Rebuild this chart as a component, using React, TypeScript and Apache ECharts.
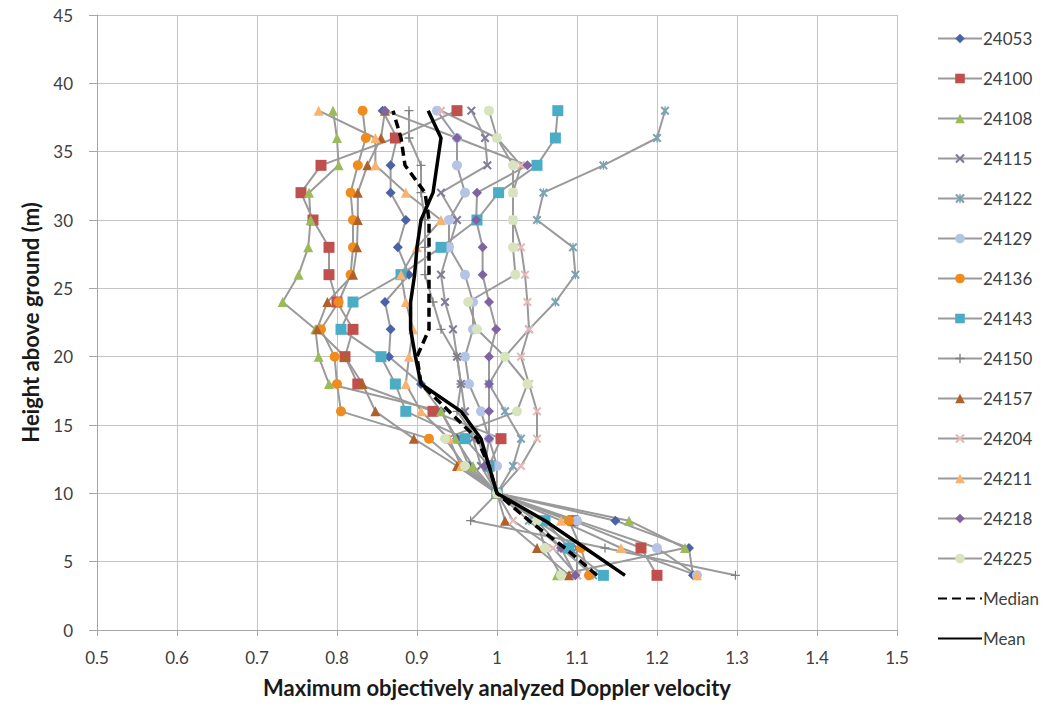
import React, { useEffect, useRef } from "react";
import * as echarts from "echarts";

const heights = [4, 6, 8, 10, 12, 14, 16, 18, 20, 22, 24, 26, 28, 30, 32, 34, 36, 38];

const s24053 = [1.245, 1.24, 1.148, 1.0, 0.965, 0.95, 0.93, 0.905, 0.865, 0.867, 0.86, 0.89, 0.876, 0.886, 0.867, 0.867, 0.875, 0.857];
const s24100 = [1.2, 1.18, 1.095, 1.0, 0.99, 1.005, 0.92, 0.826, 0.81, 0.82, 0.8, 0.79, 0.79, 0.77, 0.755, 0.78, 0.873, 0.95];
const s24108 = [1.075, 1.235, 1.165, 1.0, 0.97, 0.948, 0.93, 0.79, 0.777, 0.773, 0.732, 0.752, 0.764, 0.767, 0.765, 0.802, 0.8, 0.795];
const s24115 = [1.1, 1.1, 1.05, 1.0, 0.98, 0.97, 0.96, 0.955, 0.95, 0.945, 0.935, 0.93, 0.94, 0.95, 0.93, 0.988, 0.985, 0.968];
const s24122 = [1.12, 1.08, 1.04, 1.0, 1.02, 1.03, 1.01, 0.99, 1.01, 1.04, 1.073, 1.098, 1.095, 1.05, 1.058, 1.133, 1.2, 1.21];
const s24129 = [1.25, 1.2, 1.1, 1.0, 1.0, 0.99, 0.98, 0.965, 0.96, 0.97, 0.97, 0.96, 0.94, 0.94, 0.96, 0.95, 0.95, 0.925];
const s24136 = [1.115, 1.105, 1.09, 1.0, 0.955, 0.915, 0.805, 0.8, 0.797, 0.78, 0.802, 0.817, 0.82, 0.82, 0.817, 0.826, 0.836, 0.832];
const s24143 = [1.133, 1.09, 1.06, 1.0, 0.99, 0.96, 0.886, 0.873, 0.855, 0.805, 0.82, 0.88, 0.93, 0.975, 1.002, 1.05, 1.073, 1.076];
const s24150 = [1.298, 1.135, 0.967, 1.0, 0.99, 0.975, 0.95, 0.955, 0.95, 0.93, 0.92, 0.91, 0.91, 0.91, 0.905, 0.905, 0.89, 0.89];
const s24157 = [1.09, 1.05, 1.01, 1.0, 0.95, 0.896, 0.848, 0.832, 0.81, 0.775, 0.788, 0.82, 0.825, 0.826, 0.826, 0.838, 0.855, 0.86];
const s24204 = [1.1, 1.07, 1.02, 1.0, 1.03, 1.05, 1.05, 1.04, 1.03, 1.04, 1.038, 1.035, 1.03, 1.02, 1.02, 1.03, 1.0, 0.93];
const s24211 = [1.25, 1.155, 1.08, 1.0, 0.955, 0.94, 0.905, 0.886, 0.89, 0.895, 0.886, 0.88, 0.9, 0.93, 0.886, 0.848, 0.848, 0.777];
const s24218 = [1.098, 1.08, 1.05, 1.0, 0.985, 0.99, 0.99, 0.99, 0.99, 0.999, 0.99, 0.982, 0.982, 0.974, 0.975, 1.038, 0.95, 0.86];
const s24225 = [1.08, 1.06, 1.05, 1.0, 0.96, 0.935, 1.025, 1.038, 1.01, 0.975, 0.964, 1.023, 1.02, 1.02, 1.02, 1.02, 1.0, 0.99];
const sMedian = [1.125, 1.085, 1.04, 1.0, 0.99, 0.975, 0.94, 0.905, 0.9, 0.915, 0.915, 0.915, 0.915, 0.915, 0.91, 0.885, 0.88, 0.87];
const sMean = [1.16, 1.11, 1.06, 1.0, 0.99, 0.98, 0.955, 0.905, 0.898, 0.892, 0.892, 0.897, 0.9, 0.905, 0.92, 0.925, 0.93, 0.914];

const xTicks = [0.5, 0.6, 0.7, 0.8, 0.9, 1, 1.1, 1.2, 1.3, 1.4, 1.5];

const X_SYM = "path://M0,1.6 L1.6,0 L5,3.4 L8.4,0 L10,1.6 L6.6,5 L10,8.4 L8.4,10 L5,6.6 L1.6,10 L0,8.4 L3.4,5 Z";
const STAR_SYM = "path://M0,1.6 L1.6,0 L5,3.4 L8.4,0 L10,1.6 L6.6,5 L10,8.4 L8.4,10 L5,6.6 L1.6,10 L0,8.4 L3.4,5 Z M4.3,0 L5.7,0 L5.7,10 L4.3,10 Z";
const PLUS_SYM = "path://M4.3,0 L5.7,0 L5.7,4.3 L10,4.3 L10,5.7 L5.7,5.7 L5.7,10 L4.3,10 L4.3,5.7 L0,5.7 L0,4.3 L4.3,4.3 Z";

const stations = [
  { name: "24053", data: s24053, symbol: "diamond", size: 10, color: "#4A62A6" },
  { name: "24100", data: s24100, symbol: "rect", size: 11, color: "#C0504D" },
  { name: "24108", data: s24108, symbol: "triangle", size: 10, color: "#9BBB59" },
  { name: "24115", data: s24115, symbol: X_SYM, size: 9, color: "#7F7B98" },
  { name: "24122", data: s24122, symbol: STAR_SYM, size: 9, color: "#7BA3B4" },
  { name: "24129", data: s24129, symbol: "circle", size: 10, color: "#B4C4E6" },
  { name: "24136", data: s24136, symbol: "circle", size: 10, color: "#F08C1E" },
  { name: "24143", data: s24143, symbol: "rect", size: 11, color: "#4BACC6" },
  { name: "24150", data: s24150, symbol: PLUS_SYM, size: 9, color: "#808080" },
  { name: "24157", data: s24157, symbol: "triangle", size: 10, color: "#B0602A" },
  { name: "24204", data: s24204, symbol: X_SYM, size: 9, color: "#E6B9B8" },
  { name: "24211", data: s24211, symbol: "triangle", size: 10, color: "#F9B36E" },
  { name: "24218", data: s24218, symbol: "diamond", size: 10, color: "#8064A2" },
  { name: "24225", data: s24225, symbol: "circle", size: 10, color: "#D7E4BD" },
];

const FONT = "Lato, 'Open Sans', sans-serif";

export default function App() {
  const ref = useRef<HTMLDivElement>(null);

  useEffect(() => {
    document.body.style.margin = "0";
    if (!ref.current) return;
    const chart = echarts.init(ref.current, undefined, { renderer: "svg" });

    const series: any[] = stations.map((s) => ({
      name: s.name,
      type: "line",
      data: s.data.map((v, i) => [v, heights[i]]),
      symbol: s.symbol,
      symbolSize: s.size,
      showSymbol: true,
      lineStyle: { color: "#9A9A9A", width: 2 },
      itemStyle: { color: s.color, borderWidth: 0 },
      z: 2,
    }));
    series.push({
      name: "Median",
      type: "line",
      data: sMedian.map((v, i) => [v, heights[i]]),
      symbol: "none",
      lineStyle: { color: "#000000", width: 3.5, type: [9, 5] },
      itemStyle: { color: "#000000" },
      z: 5,
    });
    series.push({
      name: "Mean",
      type: "line",
      data: sMean.map((v, i) => [v, heights[i]]),
      symbol: "none",
      lineStyle: { color: "#000000", width: 3.5 },
      itemStyle: { color: "#000000" },
      z: 6,
    });

    chart.setOption({
      animation: false,
      backgroundColor: "#ffffff",
      textStyle: { fontFamily: FONT },
      grid: { left: 97, right: 161, top: 15, bottom: 80, containLabel: false },
      legend: {
        orient: "vertical",
        left: 932,
        top: 25,
        itemWidth: 44,
        itemHeight: 12,
        itemGap: 23,
        textStyle: { fontSize: 17, color: "#404040", fontFamily: FONT, padding: [0, 0, 0, -4] },
        data: [
          ...stations.map((s) => s.name),
          { name: "Median", itemStyle: { color: "transparent", opacity: 0 } },
          { name: "Mean", itemStyle: { color: "transparent", opacity: 0 } },
        ],
      },
      xAxis: {
        type: "value",
        min: 0.5,
        max: 1.5,
        interval: 0.1,
        name: "Maximum objectively analyzed Doppler velocity",
        nameLocation: "middle",
        nameGap: 46,
        nameTextStyle: { fontSize: 22, fontWeight: "bold", color: "#1a1a1a", fontFamily: FONT },
        axisLine: { show: true, lineStyle: { color: "#A6A6A6", width: 1 } },
        axisTick: { show: true, length: 6, lineStyle: { color: "#A6A6A6" } },
        axisLabel: {
          fontSize: 17,
          color: "#404040",
          margin: 19,
          formatter: (v: number) => {
            const r = Math.round(v * 10) / 10;
            return xTicks.includes(r) ? String(r) : "";
          },
        },
        splitLine: { show: true, lineStyle: { color: "#C4C4C4", width: 1 } },
      },
      yAxis: {
        type: "value",
        min: 0,
        max: 45,
        interval: 5,
        name: "Height above ground (m)",
        nameLocation: "middle",
        nameGap: 56,
        nameTextStyle: { fontSize: 22, fontWeight: "bold", color: "#1a1a1a", fontFamily: FONT },
        axisLine: { show: true, lineStyle: { color: "#A6A6A6", width: 1 } },
        axisTick: { show: true, length: 8, lineStyle: { color: "#A6A6A6" } },
        axisLabel: { fontSize: 17, color: "#404040", margin: 24 },
        splitLine: { show: true, lineStyle: { color: "#C4C4C4", width: 1 } },
      },
      series,
    });

    return () => chart.dispose();
  }, []);

  return <div ref={ref} style={{ width: 1058, height: 710 }} />;
}
